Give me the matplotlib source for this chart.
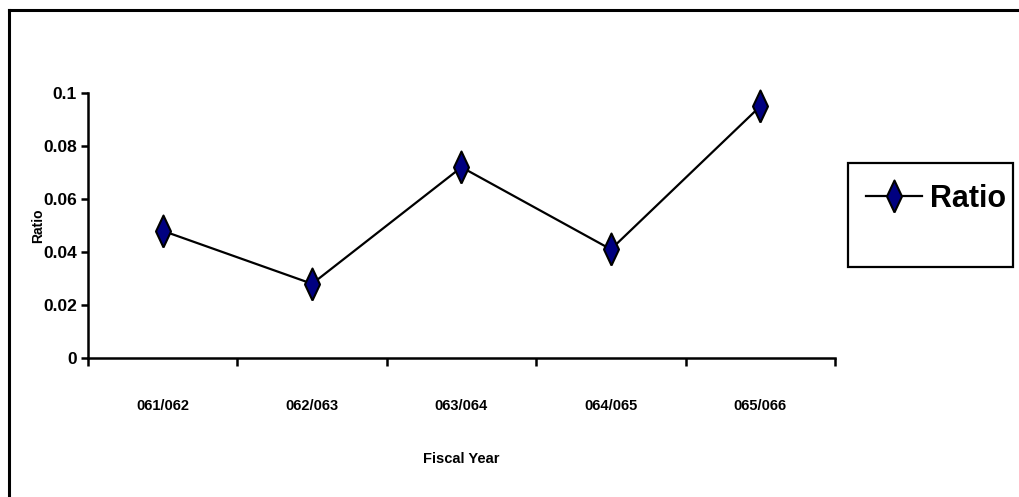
import matplotlib.pyplot as plt
from matplotlib.lines import Line2D
from matplotlib.patches import Rectangle

# Fiscal year ratio data
years = ["061/062", "062/063", "063/064", "064/065", "065/066"]
ratio = [0.048, 0.028, 0.072, 0.041, 0.095]
yticks = [0, 0.02, 0.04, 0.06, 0.08, 0.1]
ytick_labels = ["0", "0.02", "0.04", "0.06", "0.08", "0.1"]

plt.rcParams["font.family"] = ["Liberation Sans", "DejaVu Sans"]
plt.rcParams["font.weight"] = "bold"

W, H = 1020, 497
fig = plt.figure(figsize=(W / 100, H / 100), dpi=100)

# chart frame (only top and left edges fall inside the image)
fig.add_artist(Line2D([9.5 / W, 9.5 / W], [0, 1 - 9.5 / H],
                      transform=fig.transFigure, color="black", lw=2.2))
fig.add_artist(Line2D([9.5 / W, 1], [1 - 9.5 / H, 1 - 9.5 / H],
                      transform=fig.transFigure, color="black", lw=2.2))

ax = fig.add_axes([88 / W, 1 - 358 / H, (835 - 88) / W, (358 - 93) / H])

# tall, thin diamond marker
diamond = [(0, -1), (0.47, 0), (0, 1), (-0.47, 0), (0, -1)]

x = list(range(len(years)))
line, = ax.plot(x, ratio, color="black", lw=1.6, marker=diamond,
                markersize=23, markerfacecolor="#000080",
                markeredgecolor="black", markeredgewidth=1.5,
                label="Ratio", clip_on=False)

ax.set_xlim(-0.5, len(years) - 0.5)
ax.set_ylim(0, 0.1)

ax.set_xticks([i - 0.5 for i in range(len(years) + 1)])
ax.set_xticklabels([])
ax.set_xticks(x, minor=True)
ax.set_xticklabels(years, minor=True, fontsize=10.5, fontweight="bold")
ax.tick_params(axis="x", which="major", direction="out", length=6, width=1.8)
ax.tick_params(axis="x", which="minor", length=0, pad=29.5)

ax.set_yticks(yticks)
ax.set_yticklabels(ytick_labels, fontsize=12.5, fontweight="bold")
ax.tick_params(axis="y", direction="out", length=5, width=1.8, pad=3)

for side in ["top", "right"]:
    ax.spines[side].set_visible(False)
ax.spines["left"].set_linewidth(1.8)
ax.spines["bottom"].set_linewidth(1.8)

ax.set_xlabel("Fiscal Year", fontsize=10.5, fontweight="bold")
ax.xaxis.set_label_coords(0.5, -0.355)
ax.set_ylabel("Ratio", fontsize=10, fontweight="bold")
ax.yaxis.set_label_coords(-0.0576, 0.5)

# legend box
fig.add_artist(Rectangle((848 / W, 1 - 267 / H), 165 / W, 104 / H,
                         transform=fig.transFigure, fill=False,
                         edgecolor="black", lw=1.6))
fig.legend(handles=[line], loc="center left",
           bbox_to_anchor=(866 / W, 1 - 199 / H),
           prop={"weight": "bold", "size": 22},
           frameon=False, handlelength=1.83, handletextpad=0.26,
           borderpad=0, borderaxespad=0)

fig.savefig("out.png", dpi=100, facecolor="white")
